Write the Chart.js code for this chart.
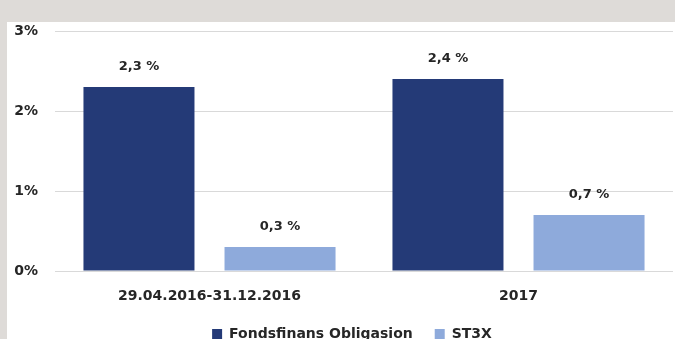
<!DOCTYPE html>
<html>
<head>
<meta charset="utf-8">
<script src="https://cdn.jsdelivr.net/npm/chart.js@4"></script>
<style>
  body { margin: 0; background: #dedbd8; }
  #wrap { position: absolute; left: 7px; top: 22px; width: 668px; height: 317px; background: #fff; overflow: hidden; }
</style>
</head>
<body>
<div id="wrap"><canvas id="chart" width="668" height="329"></canvas></div>
<script>
var periods = ['29.04.2016-31.12.2016', '2017'];
var fondsfinans = [2.3, 2.4];
var st3x = [0.3, 0.7];
var yTicks = [0, 1, 2, 3];

var fontName = 'DejaVu Sans';
var textColor = '#262626';

// writes "2,3 %" above each bar
var valueLabels = {
    id: 'valueLabels',
    afterLayout: function(chart) {
        // legend sits a bit right of centre in the original
        chart.legend.left += 12;
        chart.legend.right += 12;
    },
    afterDatasetsDraw: function(chart) {
        var ctx = chart.ctx;
        ctx.save();
        ctx.font = 'bold 13px "' + fontName + '"';
        ctx.fillStyle = textColor;
        ctx.textAlign = 'center';
        ctx.textBaseline = 'middle';
        chart.data.datasets.forEach(function(ds, i) {
            chart.getDatasetMeta(i).data.forEach(function(bar, j) {
                var txt = ds.data[j].toFixed(1).replace('.', ',') + ' %';
                ctx.fillText(txt, bar.x, bar.y - 20);
            });
        });
        ctx.restore();
    }
};

var ctx = document.getElementById('chart').getContext('2d');

var chart = new Chart(ctx, {
    type: 'bar',
    data: {
        labels: periods,
        datasets: [{
            label: 'Fondsfinans Obligasion',
            backgroundColor: '#243a77',
            data: fondsfinans,
            categoryPercentage: 0.913,
            barPercentage: 0.787
        }, {
            label: 'ST3X',
            backgroundColor: '#8eaadb',
            data: st3x,
            categoryPercentage: 0.913,
            barPercentage: 0.787
        }]
    },
    options: {
        responsive: false,
        animation: false,
        layout: { padding: { top: 9, right: 2, left: 0, bottom: 0 } },
        plugins: {
            legend: {
                position: 'bottom',
                labels: {
                    boxWidth: 10,
                    boxHeight: 10,
                    padding: 22,
                    color: textColor,
                    font: { family: fontName, size: 14, weight: 'bold' }
                }
            },
            tooltip: { enabled: false }
        },
        scales: {
            x: {
                grid: { display: false, drawTicks: false },
                border: { display: false },
                ticks: {
                    padding: 17,
                    color: textColor,
                    font: { family: fontName, size: 14, weight: 'bold' }
                },
                afterFit: function(scale) { scale.height = 34; }
            },
            y: {
                min: yTicks[0],
                max: yTicks[yTicks.length - 1],
                afterBuildTicks: function(scale) {
                    scale.ticks = yTicks.map(function(v) { return { value: v }; });
                },
                grid: { color: '#d9d9d9', drawTicks: true, tickLength: 17, tickColor: 'rgba(0,0,0,0)', lineWidth: 1 },
                border: { display: false },
                ticks: {
                    padding: 0,
                    color: textColor,
                    font: { family: fontName, size: 14, weight: 'bold' },
                    callback: function(v) { return v + '%'; }
                },
                afterFit: function(scale) { scale.width = 48; }
            }
        }
    },
    plugins: [valueLabels]
});
</script>
</body>
</html>
